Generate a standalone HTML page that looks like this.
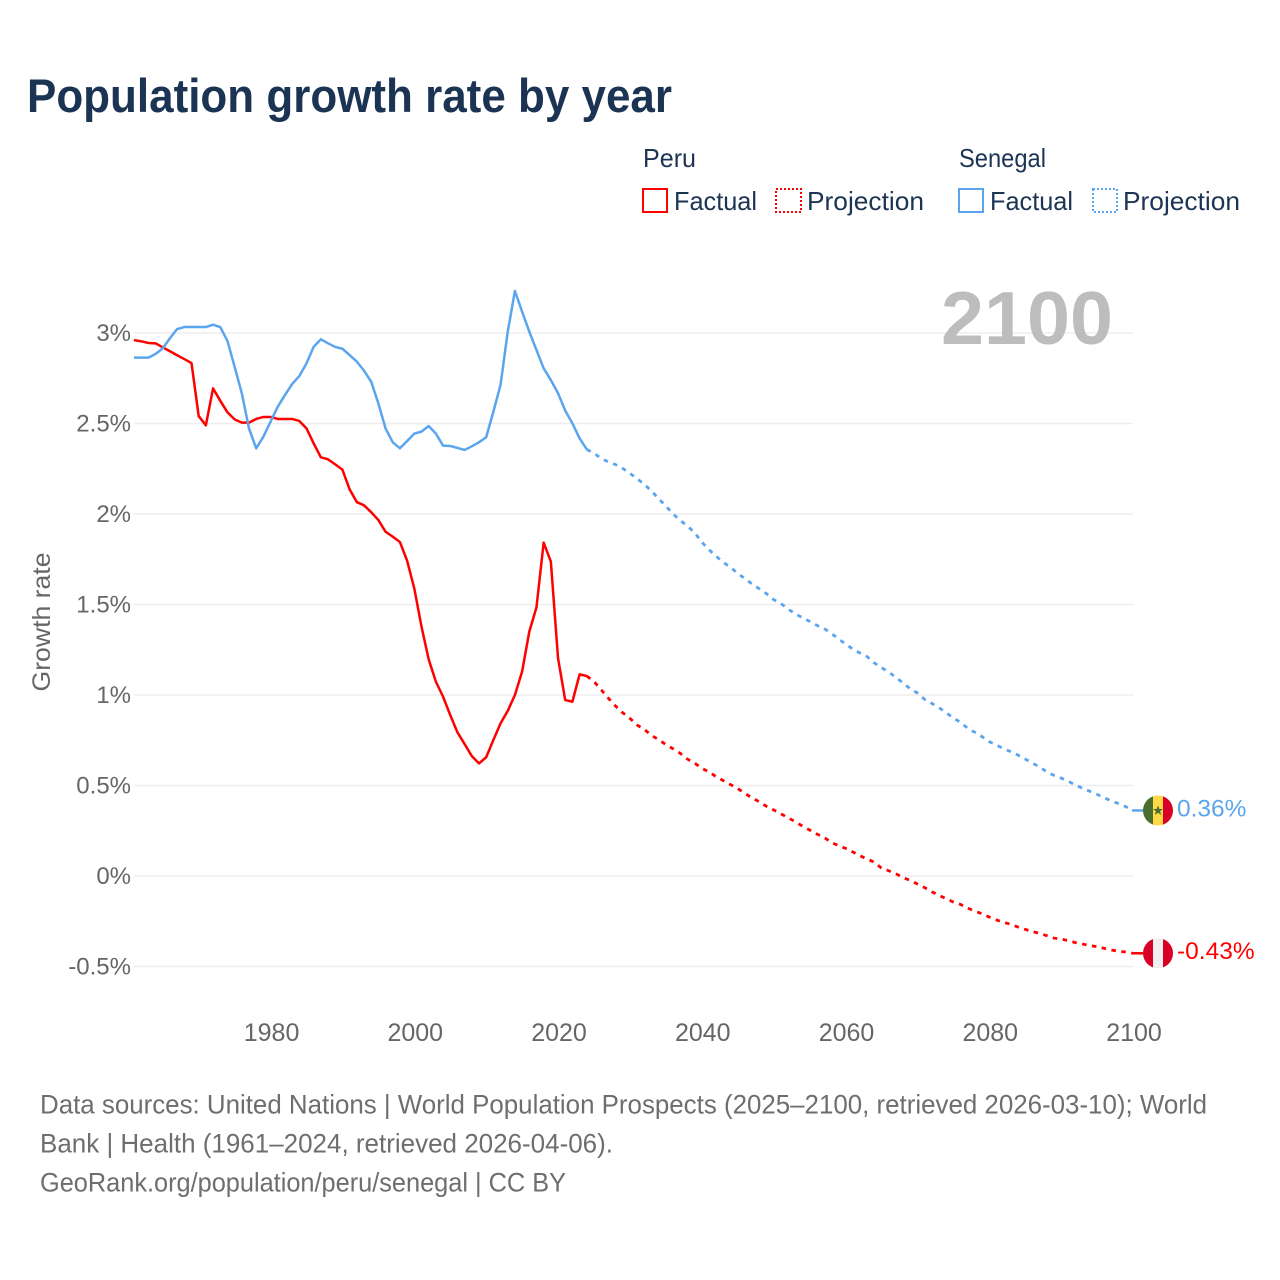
<!DOCTYPE html>
<html lang="en">
<head>
<meta charset="utf-8">
<title>Population growth rate by year</title>
<style>
html,body{margin:0;padding:0;background:#fff;}
svg{display:block;font-family:"Liberation Sans",sans-serif;}
</style>
</head>
<body>
<svg id="chart" xmlns="http://www.w3.org/2000/svg" width="1280" height="1280" viewBox="0 0 1280 1280">
  <rect x="0" y="0" width="1280" height="1280" fill="#fff"/>
  <text x="27" y="112" font-size="47" font-weight="700" fill="#1b3454" textLength="645" lengthAdjust="spacingAndGlyphs">Population growth rate by year</text>

  <g font-size="26" fill="#1b3454">
    <text x="643" y="167" textLength="53" lengthAdjust="spacingAndGlyphs">Peru</text>
    <rect x="643" y="189" width="24" height="23" fill="none" stroke="#ff0000" stroke-width="2"/>
    <text x="674" y="210" textLength="83" lengthAdjust="spacingAndGlyphs">Factual</text>
    <rect x="776" y="189" width="25" height="23" fill="none" stroke="#ff0000" stroke-width="2" stroke-dasharray="2 2"/>
    <text x="807" y="210" textLength="117" lengthAdjust="spacingAndGlyphs">Projection</text>
    <text x="959" y="167" textLength="87" lengthAdjust="spacingAndGlyphs">Senegal</text>
    <rect x="959" y="189" width="24" height="23" fill="none" stroke="#5ba5ee" stroke-width="2"/>
    <text x="990" y="210" textLength="83" lengthAdjust="spacingAndGlyphs">Factual</text>
    <rect x="1093" y="189" width="24" height="23" fill="none" stroke="#5ba5ee" stroke-width="2" stroke-dasharray="2 2"/>
    <text x="1123" y="210" textLength="117" lengthAdjust="spacingAndGlyphs">Projection</text>
  </g>

  <g id="grid"></g>
  <text x="941" y="344" font-size="75" font-weight="700" fill="#bdbdbd" textLength="172" lengthAdjust="spacingAndGlyphs">2100</text>
  <g id="yticks" font-size="24" fill="#666" text-anchor="end"></g>
  <g id="xticks" font-size="25" fill="#666" text-anchor="middle"></g>
  <text transform="translate(50,622) rotate(-90)" font-size="25" fill="#666" text-anchor="middle" textLength="139" lengthAdjust="spacingAndGlyphs">Growth rate</text>
  <g id="series"></g>

  <defs>
    <clipPath id="flag-clip-sn"><circle id="sn-clip" r="15" cx="0" cy="0"/></clipPath>
    <clipPath id="flag-clip-pe"><circle id="pe-clip" r="15" cx="0" cy="0"/></clipPath>
  </defs>
  <g id="flag-sn">
    <g clip-path="url(#flag-clip-sn)">
      <rect x="-15" y="-15" width="10" height="30" fill="#496e2d"/>
      <rect x="-5" y="-15" width="10" height="30" fill="#ffda44"/>
      <rect x="5" y="-15" width="10" height="30" fill="#d80027"/>
      <polygon points="0,-5 1.4,-1.5 5,-1.5 2.1,0.8 3.2,4.5 0,2.3 -3.2,4.5 -2.1,0.8 -5,-1.5 -1.4,-1.5" fill="#496e2d"/>
    </g>
  </g>
  <g id="flag-pe">
    <g clip-path="url(#flag-clip-pe)">
      <rect x="-15" y="-15" width="10" height="30" fill="#d80027"/>
      <rect x="-5" y="-15" width="10" height="30" fill="#f0f0f0"/>
      <rect x="5" y="-15" width="10" height="30" fill="#d80027"/>
    </g>
  </g>
  <text id="label-sn" x="1177" font-size="24.5" fill="#5ba5ee"></text>
  <text id="label-pe" x="1177" font-size="24.5" fill="#ff0000"></text>

  <g font-size="27" fill="#6e6e6e">
    <text x="40" y="1113.5" textLength="1167" lengthAdjust="spacingAndGlyphs">Data sources: United Nations | World Population Prospects (2025–2100, retrieved 2026-03-10); World</text>
    <text x="40" y="1152.5" textLength="573" lengthAdjust="spacingAndGlyphs">Bank | Health (1961–2024, retrieved 2026-04-06).</text>
    <text x="40" y="1191.5" textLength="526" lengthAdjust="spacingAndGlyphs">GeoRank.org/population/peru/senegal | CC BY</text>
  </g>
</svg>
<script>
const factualYears = [1961,1962,1963,1964,1965,1966,1967,1968,1969,1970,1971,1972,1973,1974,1975,1976,1977,1978,1979,1980,1981,1982,1983,1984,1985,1986,1987,1988,1989,1990,1991,1992,1993,1994,1995,1996,1997,1998,1999,2000,2001,2002,2003,2004,2005,2006,2007,2008,2009,2010,2011,2012,2013,2014,2015,2016,2017,2018,2019,2020,2021,2022,2023,2024];
const projectionYears = [2024,2025,2026,2027,2028,2029,2030,2031,2032,2033,2034,2035,2036,2037,2038,2039,2040,2041,2042,2043,2044,2045,2046,2047,2048,2049,2050,2051,2052,2053,2054,2055,2056,2057,2058,2059,2060,2061,2062,2063,2064,2065,2066,2067,2068,2069,2070,2071,2072,2073,2074,2075,2076,2077,2078,2079,2080,2081,2082,2083,2084,2085,2086,2087,2088,2089,2090,2091,2092,2093,2094,2095,2096,2097,2098,2099,2100];
const peruFactual = [2.961,2.954,2.945,2.943,2.921,2.899,2.877,2.856,2.834,2.541,2.490,2.694,2.626,2.562,2.523,2.505,2.505,2.525,2.536,2.536,2.525,2.525,2.525,2.514,2.473,2.390,2.313,2.302,2.274,2.245,2.136,2.066,2.048,2.01,1.967,1.902,1.875,1.845,1.742,1.589,1.378,1.197,1.074,0.991,0.889,0.794,0.729,0.663,0.622,0.656,0.751,0.843,0.912,1.0,1.129,1.350,1.484,1.842,1.737,1.203,0.972,0.963,1.114,1.105];
const peruProjection = [1.105,1.075,1.029,0.982,0.939,0.902,0.871,0.834,0.810,0.777,0.753,0.726,0.703,0.678,0.646,0.624,0.595,0.575,0.549,0.527,0.505,0.483,0.457,0.431,0.41,0.385,0.365,0.344,0.322,0.300,0.276,0.254,0.232,0.214,0.186,0.168,0.153,0.133,0.112,0.094,0.076,0.044,0.029,0.013,-0.009,-0.024,-0.044,-0.064,-0.087,-0.107,-0.125,-0.144,-0.157,-0.177,-0.195,-0.208,-0.227,-0.243,-0.256,-0.267,-0.282,-0.295,-0.307,-0.317,-0.330,-0.343,-0.348,-0.357,-0.368,-0.376,-0.385,-0.390,-0.400,-0.409,-0.416,-0.420,-0.427];
const senegalFactual = [2.864,2.864,2.864,2.884,2.915,2.971,3.022,3.033,3.033,3.033,3.033,3.046,3.033,2.956,2.814,2.667,2.473,2.363,2.427,2.510,2.593,2.657,2.718,2.762,2.832,2.924,2.965,2.943,2.923,2.913,2.878,2.842,2.792,2.731,2.611,2.473,2.396,2.363,2.403,2.444,2.455,2.486,2.444,2.378,2.376,2.365,2.354,2.374,2.396,2.424,2.565,2.713,3.007,3.232,3.118,3.007,2.906,2.805,2.740,2.667,2.571,2.501,2.418,2.357];
const senegalProjection = [2.357,2.335,2.308,2.287,2.273,2.252,2.225,2.195,2.164,2.127,2.085,2.044,2.000,1.965,1.934,1.897,1.845,1.803,1.766,1.733,1.705,1.672,1.643,1.613,1.587,1.560,1.527,1.506,1.475,1.449,1.427,1.407,1.385,1.368,1.341,1.311,1.282,1.254,1.232,1.212,1.177,1.151,1.127,1.098,1.066,1.035,1.011,0.976,0.954,0.930,0.902,0.873,0.849,0.816,0.794,0.770,0.742,0.724,0.703,0.687,0.668,0.646,0.624,0.602,0.576,0.556,0.541,0.523,0.503,0.484,0.468,0.451,0.433,0.414,0.400,0.383,0.362];
const xTickYears = [1980,2000,2020,2040,2060,2080,2100];
const yTickValues = [3,2.5,2,1.5,1,0.5,0,-0.5];
const yTickLabels = ['3%','2.5%','2%','1.5%','1%','0.5%','0%','-0.5%'];

const NS = 'http://www.w3.org/2000/svg';
const PERU_COLOR = '#ff0000';
const SENEGAL_COLOR = '#5ba5ee';
function xScale(year){ return 134 + (year - 1961) * (999 / 139); }
function yScale(value){ return 876 - value * 181; }
function pathFrom(years, values){
  return values.map(function(v,i){ return (i ? 'L' : 'M') + xScale(years[i]).toFixed(2) + ' ' + yScale(v).toFixed(2); }).join(' ');
}
function addPath(parent, d, color, dash){
  const p = document.createElementNS(NS,'path');
  p.setAttribute('d', d);
  p.setAttribute('fill','none');
  p.setAttribute('stroke', color);
  p.setAttribute('stroke-width', dash ? '2.8' : '2.5');
  p.setAttribute('stroke-linejoin','round');
  if (dash) p.setAttribute('stroke-dasharray', dash);
  parent.appendChild(p);
  return p;
}
const grid = document.getElementById('grid');
const yticks = document.getElementById('yticks');
const xticks = document.getElementById('xticks');
const series = document.getElementById('series');

yTickValues.forEach(function(v,i){
  const l = document.createElementNS(NS,'line');
  
  
  l.setAttribute('x1', xScale(1961));
  l.setAttribute('x2', xScale(2100));
  l.setAttribute('y1', yScale(v));
  l.setAttribute('y2', yScale(v));
  l.setAttribute('stroke', '#eeeeee');
  l.setAttribute('stroke-width', '1.5');
  grid.appendChild(l);
  const t = document.createElementNS(NS,'text');
  
  
  t.setAttribute('x', 131);
  t.setAttribute('y', yScale(v) + 8);
  t.textContent = yTickLabels[i];
  yticks.appendChild(t);
});
xTickYears.forEach(function(y){
  const t = document.createElementNS(NS,'text');
  
  
  t.setAttribute('x', xScale(y) + 1);
  t.setAttribute('y', 1041);
  t.textContent = y;
  xticks.appendChild(t);
});

const peruFactualLine = addPath(series, pathFrom(factualYears, peruFactual), PERU_COLOR);


const peruProjectionLine = addPath(series, pathFrom(projectionYears, peruProjection), PERU_COLOR, '4.5 5.5');


const senegalFactualLine = addPath(series, pathFrom(factualYears, senegalFactual), SENEGAL_COLOR);


const senegalProjectionLine = addPath(series, pathFrom(projectionYears, senegalProjection), SENEGAL_COLOR, '4.5 5.5');



const lastPeru = peruProjection[peruProjection.length - 1];
const lastSenegal = senegalProjection[senegalProjection.length - 1];
const endX = xScale(projectionYears[projectionYears.length - 1]);
const peruLeader = addPath(series, 'M' + (endX - 1) + ' ' + yScale(lastPeru) + ' L' + (endX + 10) + ' ' + yScale(lastPeru), PERU_COLOR);


const senegalLeader = addPath(series, 'M' + (endX - 1) + ' ' + yScale(lastSenegal) + ' L' + (endX + 10) + ' ' + yScale(lastSenegal), SENEGAL_COLOR);



const flagX = endX + 25;
document.getElementById('flag-sn').setAttribute('transform', 'translate(' + flagX + ',' + yScale(lastSenegal) + ')');
document.getElementById('flag-pe').setAttribute('transform', 'translate(' + flagX + ',' + yScale(lastPeru) + ')');
const labelSn = document.getElementById('label-sn');
labelSn.setAttribute('y', yScale(lastSenegal) + 6);
labelSn.textContent = lastSenegal.toFixed(2) + '%';
const labelPe = document.getElementById('label-pe');
labelPe.setAttribute('y', yScale(lastPeru) + 5.5);
labelPe.textContent = lastPeru.toFixed(2) + '%';
</script>
</body>
</html>
